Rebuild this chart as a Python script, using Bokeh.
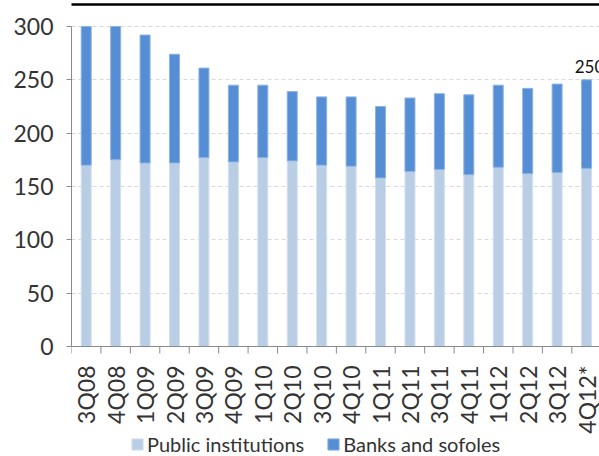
import math
from bokeh.plotting import figure
from bokeh.models import Range1d, FixedTicker, Legend, LegendItem, ColumnDataSource
from bokeh.embed import file_html
from bokeh.resources import INLINE
from bokeh.core.properties import value

quarters = ["3Q08", "4Q08", "1Q09", "2Q09", "3Q09", "4Q09", "1Q10", "2Q10", "3Q10",
            "4Q10", "1Q11", "2Q11", "3Q11", "4Q11", "1Q12", "2Q12", "3Q12", "4Q12*"]
public_institutions = [170, 175, 172, 172, 177, 173, 177, 174, 170,
                       169, 158, 164, 166, 161, 168, 162, 163, 167]
banks_and_sofoles = [130, 125, 120, 102, 84, 72, 68, 65, 64,
                     65, 67, 69, 71, 75, 77, 80, 83, 83]
y_ticks = [0, 50, 100, 150, 200, 250, 300]

xs = list(range(len(quarters)))
totals = [a + b for a, b in zip(public_institutions, banks_and_sofoles)]
boundaries = [i - 0.5 for i in range(len(quarters) + 1)]

FONT = "Lato"
LIGHT = "#b9cde5"
DARK = "#558ed5"
AXIS = "#8a8a8a"
TXT = "#333333"

# layout: plot area spans the whole page height; value 0..300 occupies 320 px
PX_PER_UNIT = 320 / y_ticks[-1]
TOP_PX, BOTTOM_PX = 26, 110
y0 = -BOTTOM_PX / PX_PER_UNIT
y1 = y_ticks[-1] + TOP_PX / PX_PER_UNIT
x0, x1 = -0.5, 17.44

src = ColumnDataSource(dict(x=xs, public=public_institutions, banks=banks_and_sofoles))

p = figure(output_backend="svg", toolbar_location=None,
           frame_width=528, frame_height=456,
           min_border_left=71, min_border_right=0, min_border_top=0, min_border_bottom=0,
           x_range=Range1d(x0, x1), y_range=Range1d(y0, y1), x_axis_location=None)
p.outline_line_color = None
p.background_fill_color = "white"
p.border_fill_color = "white"

# grid
p.xgrid.visible = False
p.ygrid.ticker = FixedTicker(ticks=y_ticks[1:])
p.ygrid.grid_line_color = "#d9d9d9"
p.ygrid.grid_line_dash = "4 3"
p.ygrid.grid_line_width = 1

rs = p.vbar_stack(["public", "banks"], x="x", width=0.34, source=src,
                  fill_color=[LIGHT, DARK], line_color=["#d4e0ef", "#8db3e2"], line_width=1)

# category axis (drawn at value 0)
p.segment(x0=[x0], y0=[0], x1=[x1], y1=[0], line_color=AXIS, line_width=1)
tick_len = 7 / PX_PER_UNIT
p.segment(x0=boundaries, y0=[0] * len(boundaries), x1=boundaries,
          y1=[-tick_len] * len(boundaries), line_color=AXIS, line_width=1)
p.text(x=xs, y=[0] * len(xs), text=quarters, angle=math.pi / 2,
       text_font=value(FONT), text_font_size="23px", text_color=TXT,
       text_align="right", text_baseline="middle", y_offset=19)

# top rule (cropped report heading)
p.segment(x0=[x0 - 5], y0=[y_ticks[-1] + 22 / PX_PER_UNIT], x1=[x1 + 5],
          y1=[y_ticks[-1] + 22 / PX_PER_UNIT], line_color="black", line_width=2.5)

# data label on the last bar
p.text(x=[xs[-1]], y=[totals[-1]], text=[str(totals[-1])],
       text_font=value(FONT), text_font_size="17px", text_color="#111111",
       text_align="center", text_baseline="bottom", y_offset=-7, x_offset=3)

# y axis
p.yaxis.ticker = FixedTicker(ticks=y_ticks)
p.yaxis.bounds = (y_ticks[0], y_ticks[-1])
p.yaxis.axis_line_color = AXIS
p.yaxis.major_tick_line_color = AXIS
p.yaxis.major_tick_out = 5
p.yaxis.major_tick_in = 0
p.yaxis.minor_tick_line_color = None
p.yaxis.major_label_standoff = 13
p.yaxis.major_label_text_font = FONT
p.yaxis.major_label_text_font_size = "23px"
p.yaxis.major_label_text_color = TXT

legend = Legend(items=[LegendItem(label="Public institutions", renderers=[rs[0]]),
                       LegendItem(label="Banks and sofoles", renderers=[rs[1]])],
                orientation="horizontal", location=(59, 0),
                label_text_font=FONT, label_text_font_size="20px", label_text_color=TXT,
                glyph_width=14, glyph_height=14, label_standoff=3, spacing=22,
                label_height=14, border_line_color=None, background_fill_alpha=0,
                padding=0, margin=0)
p.add_layout(legend, "center")

open("out.html", "w").write(file_html(p, INLINE))
